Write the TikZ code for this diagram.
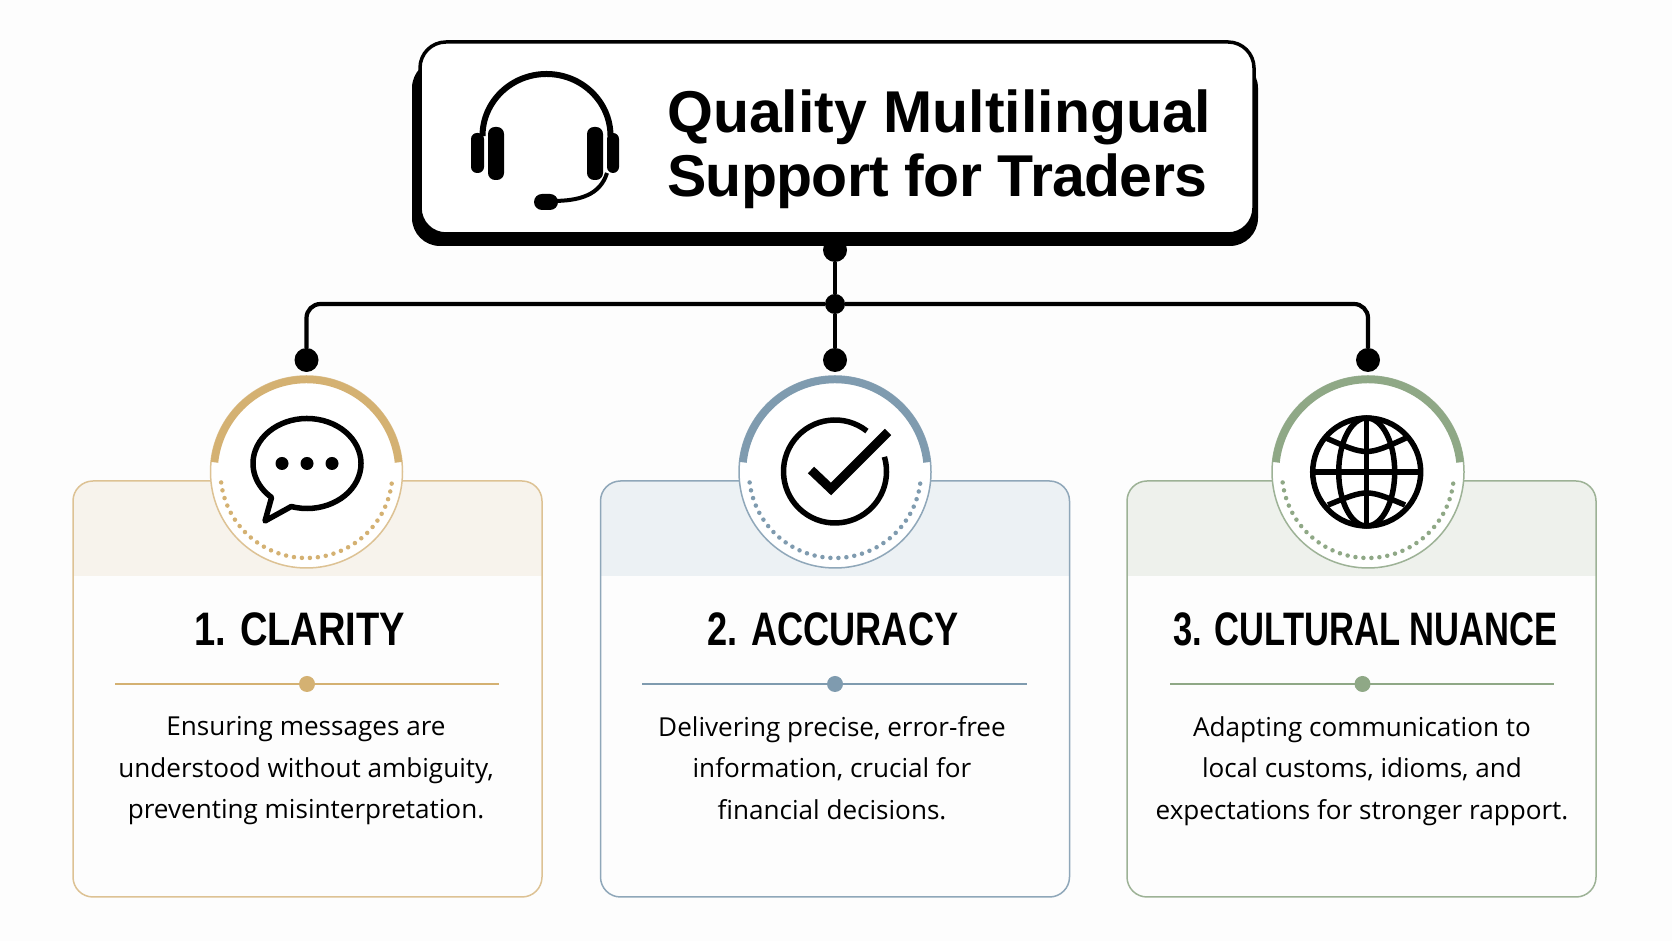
\documentclass[tikz,border=0pt]{standalone}
\usepackage{fontspec}
\usepackage{tikz}
\usetikzlibrary{positioning,calc}

\setmainfont{Open Sans}
\newfontfamily\headfont{Liberation Sans}
\newfontfamily\cardfont{Liberation Sans}

\definecolor{paper}{HTML}{FDFDFD}
\definecolor{tanline}{HTML}{D4B172}
\definecolor{tanedge}{HTML}{DDC294}
\definecolor{tanband}{HTML}{F7F3EC}
\definecolor{blueline}{HTML}{7F9BAF}
\definecolor{blueedge}{HTML}{8FA7B9}
\definecolor{blueband}{HTML}{ECF1F4}
\definecolor{greenline}{HTML}{8FA886}
\definecolor{greenedge}{HTML}{9DB296}
\definecolor{greenband}{HTML}{EEF1EC}

\tikzset{
  wire/.style={draw=black,line width=4.2pt},
  blackdot/.style={fill=black,circle,inner sep=0pt,minimum size=#1},
  icon/.style={draw=black,line width=5.5pt},
  cardbox/.style 2 args={draw=#1,line width=1.5pt,rounded corners=20pt,
    minimum width=469pt,minimum height=416pt,
    path picture={\fill[#2,sharp corners] (path picture bounding box.north west)
      rectangle ([yshift=-95pt]path picture bounding box.north east);}},
  badge/.style={draw=#1,fill=white,circle,line width=1.5pt,inner sep=0pt,minimum size=192pt},
  toparc/.style={draw=#1,line width=7.5pt},
  dotarc/.style={draw=#1,line width=4.5pt,line cap=round,dash pattern=on 0pt off 8pt},
  cardtitle/.style={font=\cardfont\bfseries\addfontfeature{FakeStretch=#1}\fontsize{47}{50}\selectfont,anchor=base},
  cardtext/.style={font=\fontsize{26.1}{41.5}\selectfont,align=center,text=black},
  ruleline/.style={draw=#1,line width=1.5pt},
  ruledot/.style={fill=#1,circle,inner sep=0pt,minimum size=16pt},
}

\begin{document}
\begin{tikzpicture}[x=1pt,y=1pt]
            \useasboundingbox (0,0) rectangle (1672,941);
            \fill[paper] (0,0) rectangle (1672,941);

            % title box
            \node[fill=black,rounded corners=28pt,minimum width=846pt,minimum height=186pt,inner sep=0pt] (titleshadow) at (835,788) {};
            \node[draw=black,fill=white,line width=3.5pt,rounded corners=26pt,minimum width=834pt,minimum height=192pt,inner sep=0pt] (titlebox) at (837,803) {};
            \node[font=\headfont\bfseries\fontsize{59}{64}\selectfont,align=left,anchor=west,inner sep=0pt] (titletext) at (667,792) {Quality Multilingual\\\addfontfeature{LetterSpace=-1.15}Support for Traders};

            % headset
            \draw[icon,line width=6pt] (482.5,805) arc [start angle=180,end angle=0,x radius=64,y radius=62];
            \fill[rounded corners=7pt] (488,814) rectangle (504,761);
            \fill[rounded corners=7pt] (587,814) rectangle (603,761);
            \fill[rounded corners=6pt] (471,808) rectangle (484,768);
            \fill[rounded corners=6pt] (607,808) rectangle (619,768);
            \draw[icon,line width=4pt] (607,768) .. controls (600,746) and (580,740) .. (552,740);
            \fill[rounded corners=8pt] (534,747) rectangle (558,731);

            % connectors
            \node[blackdot=24pt] (topdot) at (835,691) {};
            \node[blackdot=20pt] (junction) at (835,637) {};
            \node[blackdot=24pt] (dotleft) at (306.5,581) {};
            \node[blackdot=24pt] (dotmid) at (835,581) {};
            \node[blackdot=24pt] (dotright) at (1368,581) {};
            \draw[wire] (topdot) -- (junction);
            \draw[wire] (junction) -- (dotmid);
            \draw[wire,rounded corners=14pt] (dotleft) |- (junction);
            \draw[wire,rounded corners=14pt] (dotright) |- (junction);

            % cards
            \node[cardbox={tanedge}{tanband}] (card1) at (307.5,252) {};
            \node[cardbox={blueedge}{blueband}] (card2) at (835,252) {};
            \node[cardbox={greenedge}{greenband}] (card3) at (1361.5,252) {};

            % badges
            \node[badge=tanedge] (badge1) at (306.5,469) {};
            \node[badge=blueedge] (badge2) at (835,469) {};
            \node[badge=greenedge] (badge3) at (1368,469) {};

            \draw[toparc=tanline] ([shift={(6:92.5)}]badge1.center) arc [start angle=6,end angle=174,radius=92.5];
            \draw[toparc=blueline] ([shift={(6:92.5)}]badge2.center) arc [start angle=6,end angle=174,radius=92.5];
            \draw[toparc=greenline] ([shift={(6:92.5)}]badge3.center) arc [start angle=6,end angle=174,radius=92.5];

            \draw[dotarc=tanline] ([shift={(187:86)}]badge1.center) arc [start angle=187,end angle=353,radius=86];
            \draw[dotarc=blueline] ([shift={(187:86)}]badge2.center) arc [start angle=187,end angle=353,radius=86];
            \draw[dotarc=greenline] ([shift={(187:86)}]badge3.center) arc [start angle=187,end angle=353,radius=86];

            % speech bubble
            \coordinate (bubble) at (307,477.5);
            \draw[icon,line join=round] (bubble) ++(253:54 and 45) arc [start angle=253,end angle=589,x radius=54,y radius=45] -- (265,420) -- cycle;
            \fill (282,477.5) circle (6.5);
            \fill (307,477.5) circle (6.5);
            \fill (332,477.5) circle (6.5);

            % check mark
            \coordinate (check) at (835,469.5);
            \draw[icon] (check) ++(51.7:51.5) arc [start angle=51.7,end angle=376.5,radius=51.5];
            \draw[black,line width=9pt] (811,471) -- (831,452) -- (888,509);

            % globe
            \coordinate (globe) at (1366.7,469);
            \draw[icon] (globe) circle (54);
            \draw[icon] (globe) ellipse (28 and 54);
            \draw[icon] (1366.7,415) -- (1366.7,523);
            \draw[icon] (1312.7,469) -- (1420.7,469);
            \draw[icon] (1326,503) .. controls (1366.7,485) .. (1406,503);
            \draw[icon] (1328,436) .. controls (1367,452) .. (1405,436);

            % card titles
            \node[cardtitle=0.81] (title1) at (299.7,295) {1. CLARITY};
            \node[cardtitle=0.77] (title2) at (833,295) {2. ACCURACY};
            \node[cardtitle=0.735] (title3) at (1365.4,295) {3. CULTURAL NUANCE};

            % rules
            \coordinate (rule1a) at (115,257);
            \coordinate (rule1b) at (499,257);
            \coordinate (rule2a) at (642,257);
            \coordinate (rule2b) at (1027,257);
            \coordinate (rule3a) at (1170,257);
            \coordinate (rule3b) at (1554,257);
            \draw[ruleline=tanline] (rule1a) -- (rule1b);
            \draw[ruleline=blueline] (rule2a) -- (rule2b);
            \draw[ruleline=greenline] (rule3a) -- (rule3b);
            \node[ruledot=tanline] (rule1dot) at (307,257) {};
            \node[ruledot=blueline] (rule2dot) at (835,257) {};
            \node[ruledot=greenline] (rule3dot) at (1362.5,257) {};

            % card texts
            \node[cardtext] (text1) at (306,170) {Ensuring messages are\\understood without ambiguity,\\preventing misinterpretation.};
            \node[cardtext] (text2) at (832,173) {Delivering precise, error-free\\information, crucial for\\financial decisions.};
            \node[cardtext] (text3) at (1362,170) {Adapting communication to\\local customs, idioms, and\\expectations for stronger rapport.};

        \end{tikzpicture}
\end{document}
